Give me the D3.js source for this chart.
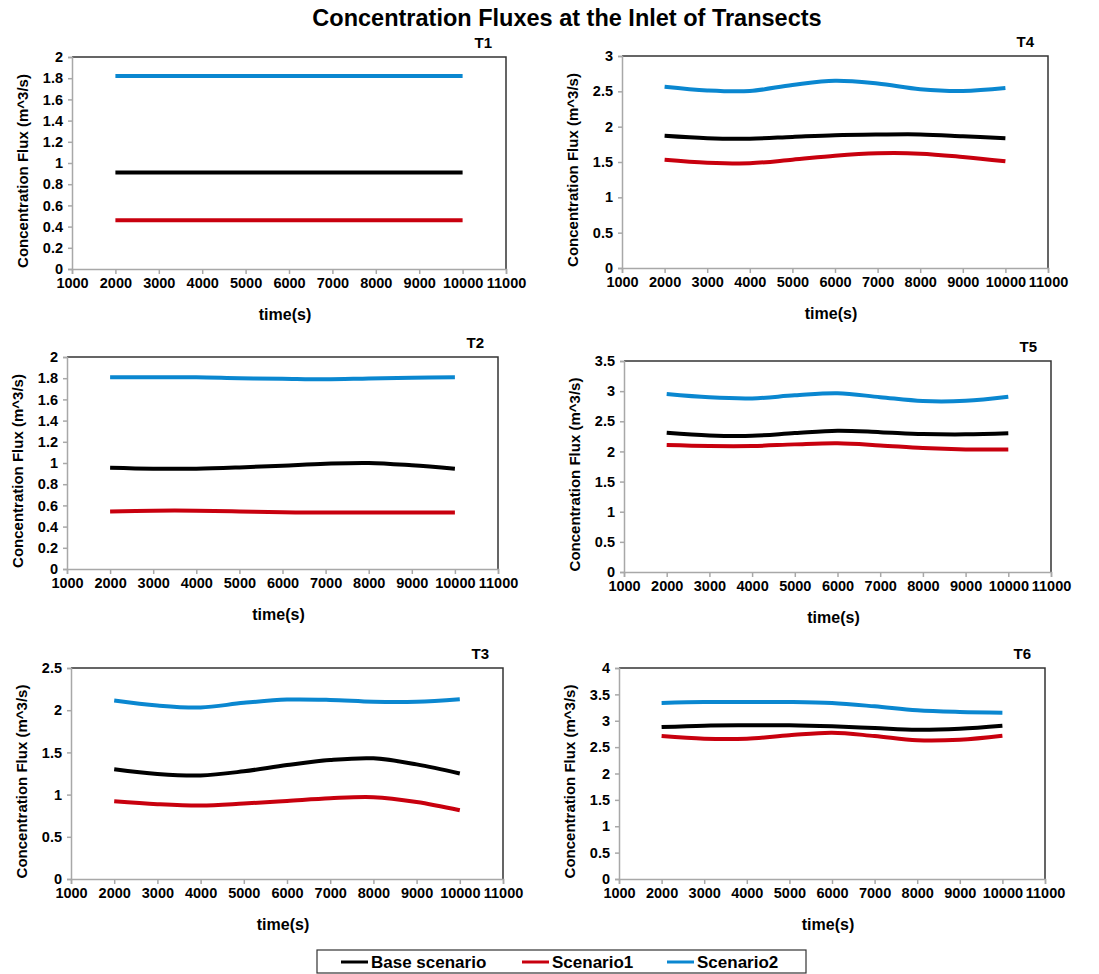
<!DOCTYPE html>
<html>
<head>
<meta charset="utf-8">
<script src="https://cdn.jsdelivr.net/npm/d3@7/dist/d3.min.js"></script>
<style>
  html, body { margin: 0; padding: 0; background: #fff; }
  svg { display: block; font-family: "Liberation Sans", Arial, sans-serif; }
  .tick text { font-weight: bold; font-size: 14.5px; fill: #000; }
</style>
</head>
<body>
<svg id="chart" width="1099" height="974"></svg>
<script>
// Sample times (s)
const times = [2000, 3000, 4000, 5000, 6000, 7000, 8000, 9000, 10000];
const xTicks = [1000, 2000, 3000, 4000, 5000, 6000, 7000, 8000, 9000, 10000, 11000];

const seriesNames = ["Base scenario", "Scenario1", "Scenario2"];
const seriesColors = ["#000000", "#c8000e", "#0a87d0"];

// Transect T1
const t1Base = [0.91, 0.91, 0.91, 0.91, 0.91, 0.91, 0.91, 0.91, 0.91];
const t1S1   = [0.46, 0.46, 0.46, 0.46, 0.46, 0.46, 0.46, 0.46, 0.46];
const t1S2   = [1.82, 1.82, 1.82, 1.82, 1.82, 1.82, 1.82, 1.82, 1.82];
// Transect T2
const t2Base = [0.955, 0.946, 0.946, 0.958, 0.975, 0.993, 1.0, 0.978, 0.946];
const t2S1   = [0.543, 0.55, 0.55, 0.543, 0.535, 0.533, 0.533, 0.533, 0.533];
const t2S2   = [1.808, 1.808, 1.808, 1.8, 1.795, 1.79, 1.798, 1.805, 1.808];
// Transect T3
const t3Base = [1.30, 1.244, 1.226, 1.276, 1.35, 1.41, 1.43, 1.358, 1.25];
const t3S1   = [0.92, 0.886, 0.87, 0.894, 0.925, 0.957, 0.97, 0.913, 0.815];
const t3S2   = [2.114, 2.055, 2.032, 2.087, 2.126, 2.122, 2.10, 2.10, 2.13];
// Transect T4
const t4Base = [1.87, 1.836, 1.83, 1.855, 1.879, 1.888, 1.89, 1.865, 1.836];
const t4S1   = [1.533, 1.491, 1.482, 1.533, 1.59, 1.623, 1.618, 1.571, 1.51];
const t4S2   = [2.565, 2.513, 2.505, 2.59, 2.65, 2.61, 2.53, 2.505, 2.546];
// Transect T5
const t5Base = [2.31, 2.266, 2.26, 2.305, 2.344, 2.32, 2.289, 2.283, 2.30];
const t5S1   = [2.106, 2.09, 2.09, 2.117, 2.135, 2.10, 2.056, 2.034, 2.034];
const t5S2   = [2.952, 2.897, 2.88, 2.93, 2.965, 2.90, 2.836, 2.84, 2.908];
// Transect T6
const t6Base = [2.88, 2.907, 2.913, 2.913, 2.894, 2.862, 2.83, 2.85, 2.907];
const t6S1   = [2.71, 2.66, 2.66, 2.724, 2.774, 2.71, 2.63, 2.64, 2.716];
const t6S2   = [3.336, 3.355, 3.355, 3.355, 3.336, 3.273, 3.197, 3.166, 3.153];

// y-axis tick labels per transect
const yTicksT1 = [0, 0.2, 0.4, 0.6, 0.8, 1, 1.2, 1.4, 1.6, 1.8, 2];
const yTicksT2 = yTicksT1;
const yTicksT3 = [0, 0.5, 1, 1.5, 2, 2.5];
const yTicksT4 = [0, 0.5, 1, 1.5, 2, 2.5, 3];
const yTicksT5 = [0, 0.5, 1, 1.5, 2, 2.5, 3, 3.5];
const yTicksT6 = [0, 0.5, 1, 1.5, 2, 2.5, 3, 3.5, 4];

const panels = [
  { name: "T1", box: [72, 57, 506, 269], yTicks: yTicksT1, series: [t1Base, t1S1, t1S2] },
  { name: "T4", box: [622, 56, 1048, 268], yTicks: yTicksT4, series: [t4Base, t4S1, t4S2] },
  { name: "T2", box: [67, 357, 498, 569], yTicks: yTicksT2, series: [t2Base, t2S1, t2S2] },
  { name: "T5", box: [624, 361, 1051, 572], yTicks: yTicksT5, series: [t5Base, t5S1, t5S2] },
  { name: "T3", box: [71, 668, 503, 879], yTicks: yTicksT3, series: [t3Base, t3S1, t3S2] },
  { name: "T6", box: [619, 668, 1045, 879], yTicks: yTicksT6, series: [t6Base, t6S1, t6S2] }
];

const svg = d3.select("#chart");

svg.append("text")
  .attr("x", 567).attr("y", 26)
  .attr("text-anchor", "middle")
  .style("font-weight", "bold").style("font-size", "23.5px")
  .text("Concentration Fluxes at the Inlet of Transects");

const axisGray = "#a8a8a8";

panels.forEach(p => {
  const [x0, y0, x1, y1] = p.box;
  const yMax = p.yTicks[p.yTicks.length - 1];
  const x = d3.scaleLinear().domain([1000, 11000]).range([x0, x1]);
  const y = d3.scaleLinear().domain([0, yMax]).range([y1, y0]);
  const g = svg.append("g");

  // top and right frame
  g.append("path")
    .attr("d", `M${x0},${y0}H${x1}V${y1}`)
    .attr("fill", "none").attr("stroke", "#333").attr("stroke-width", 1.5);

  const yAxis = g.append("g")
    .attr("transform", `translate(${x0},0)`)
    .call(d3.axisLeft(y).tickValues(p.yTicks).tickSize(4).tickPadding(5)
      .tickFormat(d => String(+d.toFixed(2))));
  const xAxis = g.append("g")
    .attr("transform", `translate(0,${y1})`)
    .call(d3.axisBottom(x).tickValues(xTicks).tickSize(5).tickPadding(4)
      .tickFormat(d3.format("d")));
  [yAxis, xAxis].forEach(a => {
    a.select(".domain").attr("stroke", axisGray).attr("stroke-width", 1.5);
    a.selectAll(".tick line").attr("stroke", axisGray).attr("stroke-width", 1.5);
  });

  const line = d3.line()
    .x((d, i) => x(times[i]))
    .y(d => y(d))
    .curve(d3.curveCatmullRom.alpha(0.5));

  p.series.forEach((vals, k) => {
    g.append("path")
      .datum(vals)
      .attr("d", line)
      .attr("fill", "none")
      .attr("stroke", seriesColors[k])
      .attr("stroke-width", 4);
  });

  g.append("text")
    .attr("x", x1 - 14).attr("y", y0 - 9)
    .attr("text-anchor", "end")
    .style("font-weight", "bold").style("font-size", "15px")
    .text(p.name);

  const cy = (y0 + y1) / 2 + 8;
  g.append("text")
    .attr("transform", `translate(${x0 - 50},${cy}) rotate(-90)`)
    .attr("text-anchor", "middle")
    .attr("dominant-baseline", "central")
    .style("font-weight", "bold").style("font-size", "15px")
    .text("Concentration Flux (m^3/s)");

  g.append("text")
    .attr("x", (x0 + x1) / 2 - 4).attr("y", y1 + 51)
    .attr("text-anchor", "middle")
    .style("font-weight", "bold").style("font-size", "16px")
    .text("time(s)");
});

// Legend
const legend = svg.append("g");
legend.append("rect")
  .attr("x", 317).attr("y", 950).attr("width", 489).attr("height", 23)
  .attr("fill", "#fff").attr("stroke", "#333").attr("stroke-width", 1.2);
const legendX = [341, 522, 667];
seriesNames.forEach((name, k) => {
  legend.append("line")
    .attr("x1", legendX[k]).attr("x2", legendX[k] + 27)
    .attr("y1", 962).attr("y2", 962)
    .attr("stroke", seriesColors[k]).attr("stroke-width", 3);
  legend.append("text")
    .attr("x", legendX[k] + 30).attr("y", 968)
    .style("font-weight", "bold").style("font-size", "17px")
    .text(name);
});
</script>
</body>
</html>
